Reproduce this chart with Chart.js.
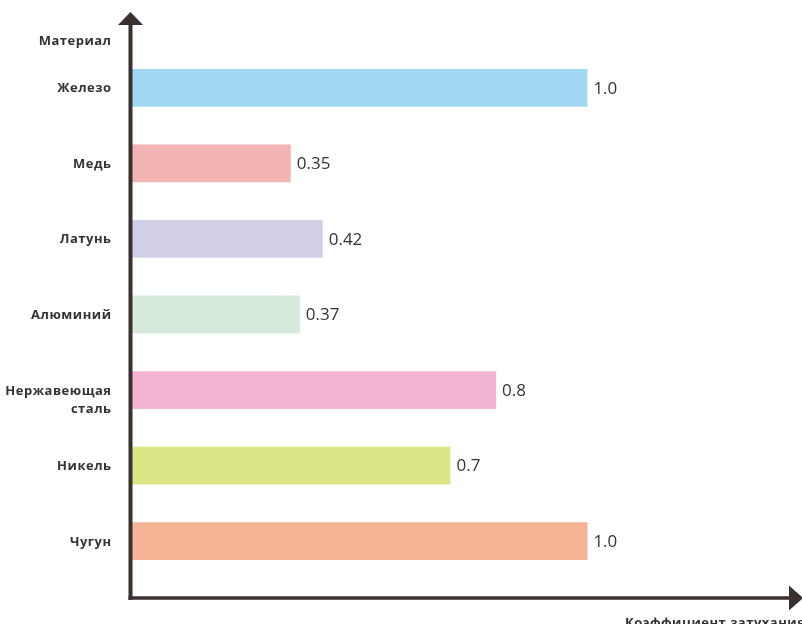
<!DOCTYPE html>
<html>
<head>
<meta charset="utf-8">
<style>
  html, body { margin: 0; padding: 0; background: #fff; }
  #wrap { width: 802px; height: 624px; }
</style>
<script src="https://cdn.jsdelivr.net/npm/chart.js@4.4.0/dist/chart.umd.min.js"></script>
</head>
<body>
<div id="wrap"><canvas id="chart" width="802" height="624"></canvas></div>
<script>
// data
const materials = ['Железо', 'Медь', 'Латунь', 'Алюминий', ['Нержавеющая', 'сталь'], 'Никель', 'Чугун'];
const coefficients = [1.0, 0.35, 0.42, 0.37, 0.8, 0.7, 1.0];
const valueLabels = ['1.0', '0.35', '0.42', '0.37', '0.8', '0.7', '1.0'];
const barColors = ['#a1d9f5', '#f2b3b3', '#d3cee8', '#d6eadb', '#f4b5d3', '#dce686', '#f4b394'];

const yTitle = 'Материал';
const xTitle = 'Коэффициент затухания';

const AXIS_COLOR = '#3a3030';
const TEXT_COLOR = '#333333';
const LABEL_FONT = '"Open Sans", sans-serif';
const VALUE_FONT = '"Open Sans", sans-serif';
const LABEL_SPACING = '0.5px';

// axes with arrow heads, category labels, value labels and axis titles
const decorPlugin = {
  id: 'decor',
  afterDatasetsDraw(chart) {
    const { ctx, chartArea } = chart;
    const yScale = chart.scales.y;
    const x0 = chartArea.left - 0.5;
    const yAxisBottom = chartArea.bottom + 19;

    ctx.save();
    // category labels: first line sits on the bar centre, extra lines go below
    ctx.letterSpacing = LABEL_SPACING;
    ctx.fillStyle = TEXT_COLOR;
    ctx.font = 'bold 13px ' + LABEL_FONT;
    ctx.textAlign = 'right';
    ctx.textBaseline = 'alphabetic';
    materials.forEach((label, i) => {
      const lines = Array.isArray(label) ? label : [label];
      const yc = yScale.getPixelForValue(i);
      lines.forEach((line, k) => {
        ctx.fillText(line, 111.5, yc + 4.5 + k * 18);
      });
    });

    // value labels
    const meta = chart.getDatasetMeta(0);
    ctx.letterSpacing = '0px';
    ctx.font = '17px ' + VALUE_FONT;
    ctx.textAlign = 'left';
    ctx.textBaseline = 'middle';
    meta.data.forEach((bar, i) => {
      ctx.fillText(valueLabels[i], bar.x + 6, bar.y + 1);
    });

    // axis lines
    ctx.strokeStyle = AXIS_COLOR;
    ctx.fillStyle = AXIS_COLOR;
    ctx.lineWidth = 4;
    ctx.beginPath();
    ctx.moveTo(x0, yAxisBottom + 2);
    ctx.lineTo(x0, 22);
    ctx.stroke();
    ctx.lineWidth = 3.5;
    ctx.beginPath();
    ctx.moveTo(x0 - 2, yAxisBottom);
    ctx.lineTo(792, yAxisBottom);
    ctx.stroke();

    // arrow heads
    ctx.beginPath();
    ctx.moveTo(x0, 12);
    ctx.lineTo(x0 - 12.5, 25);
    ctx.lineTo(x0 + 12.5, 25);
    ctx.closePath();
    ctx.fill();
    ctx.beginPath();
    ctx.moveTo(803, yAxisBottom);
    ctx.lineTo(789, yAxisBottom - 12.5);
    ctx.lineTo(789, yAxisBottom + 12.5);
    ctx.closePath();
    ctx.fill();

    // axis titles
    ctx.letterSpacing = LABEL_SPACING;
    ctx.fillStyle = TEXT_COLOR;
    ctx.font = 'bold 13px ' + LABEL_FONT;
    ctx.textAlign = 'right';
    ctx.textBaseline = 'alphabetic';
    ctx.fillText(yTitle, 111.5, 45);
    ctx.textAlign = 'left';
    ctx.fillText(xTitle, 625, 627);
    ctx.restore();
  }
};

new Chart(document.getElementById('chart'), {
  type: 'bar',
  data: {
    labels: materials,
    datasets: [{
      data: coefficients,
      backgroundColor: barColors,
      borderWidth: 0,
      barPercentage: 0.5,
      categoryPercentage: 1.0
    }]
  },
  options: {
    indexAxis: 'y',
    responsive: false,
    animation: false,
    layout: { padding: { top: 50, bottom: 45, left: 0, right: 1 } },
    plugins: {
      legend: { display: false },
      tooltip: { enabled: false }
    },
    scales: {
      x: {
        display: false,
        min: 0,
        max: 1.468
      },
      y: {
        afterFit(scale) { scale.width = 131; },
        grid: { display: false, drawTicks: false },
        border: { display: false },
        ticks: { display: false }
      }
    }
  },
  plugins: [decorPlugin]
});
</script>
</body>
</html>
